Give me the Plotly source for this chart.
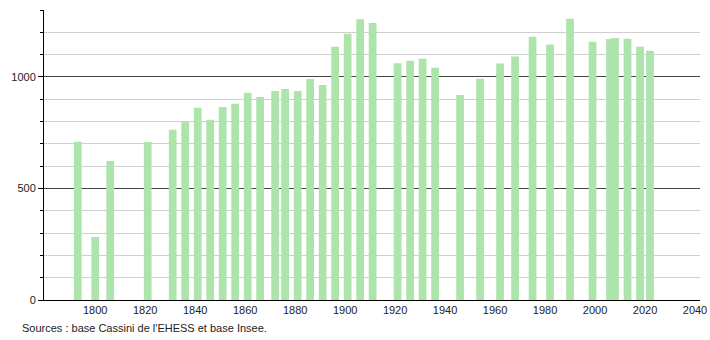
import plotly.graph_objects as go

years = [1793, 1800, 1806, 1821, 1831, 1836, 1841, 1846, 1851, 1856,
         1861, 1866, 1872, 1876, 1881, 1886, 1891, 1896, 1901, 1906,
         1911, 1921, 1926, 1931, 1936, 1946, 1954, 1962, 1968, 1975,
         1982, 1990, 1999, 2006, 2008, 2013, 2018, 2022]
population = [709, 282, 623, 708, 763, 798, 862, 808, 865, 880,
              929, 910, 937, 946, 937, 991, 964, 1135, 1194, 1258,
              1242, 1061, 1073, 1081, 1041, 919, 992, 1060, 1091, 1180,
              1145, 1261, 1158, 1170, 1175, 1171, 1135, 1117]
x_ticks = [1800, 1820, 1840, 1860, 1880, 1900, 1920, 1940, 1960, 1980, 2000, 2020, 2040]
y_ticks = [0, 500, 1000]
source_text = "Sources : base Cassini de l'EHESS et base Insee."

fig = go.Figure()
fig.add_trace(go.Bar(
    x=years, y=population, width=3.1,
    marker=dict(color="rgb(172,228,172)", line=dict(width=0)),
    hoverinfo="x+y",
))

fig.update_layout(
    width=710, height=340,
    margin=dict(l=44, r=10, t=10, b=40, autoexpand=False),
    paper_bgcolor="white", plot_bgcolor="white",
    showlegend=False,
    font=dict(family="Liberation Sans, Arial, sans-serif", size=11, color="#222"),
    xaxis=dict(
        range=[1779.5, 2042], tickvals=x_ticks, ticks="", showgrid=False,
        showline=True, linecolor="black", linewidth=1, zeroline=False,
        automargin=False, ticklabelstandoff=0,
        tickfont=dict(size=11, color="#222"),
    ),
    yaxis=dict(
        range=[0, 1300], tickvals=y_ticks, ticks="outside", ticklen=5,
        tickcolor="black", showline=True, linecolor="black", linewidth=1,
        showgrid=True, gridcolor="#444", gridwidth=1, zeroline=False,
        automargin=False,
        tickfont=dict(size=11, color="#222"),
        minor=dict(dtick=100, tick0=0, showgrid=True, gridcolor="#cfcfcf",
                   gridwidth=1, ticks="outside", ticklen=3, tickcolor="black"),
    ),
    annotations=[dict(
        text=source_text, xref="paper", yref="paper",
        x=-24 / 656, y=-28 / 290, xanchor="left", yanchor="middle",
        showarrow=False, font=dict(size=11, color="#222"),
    )],
)

fig.write_html("out.html")
